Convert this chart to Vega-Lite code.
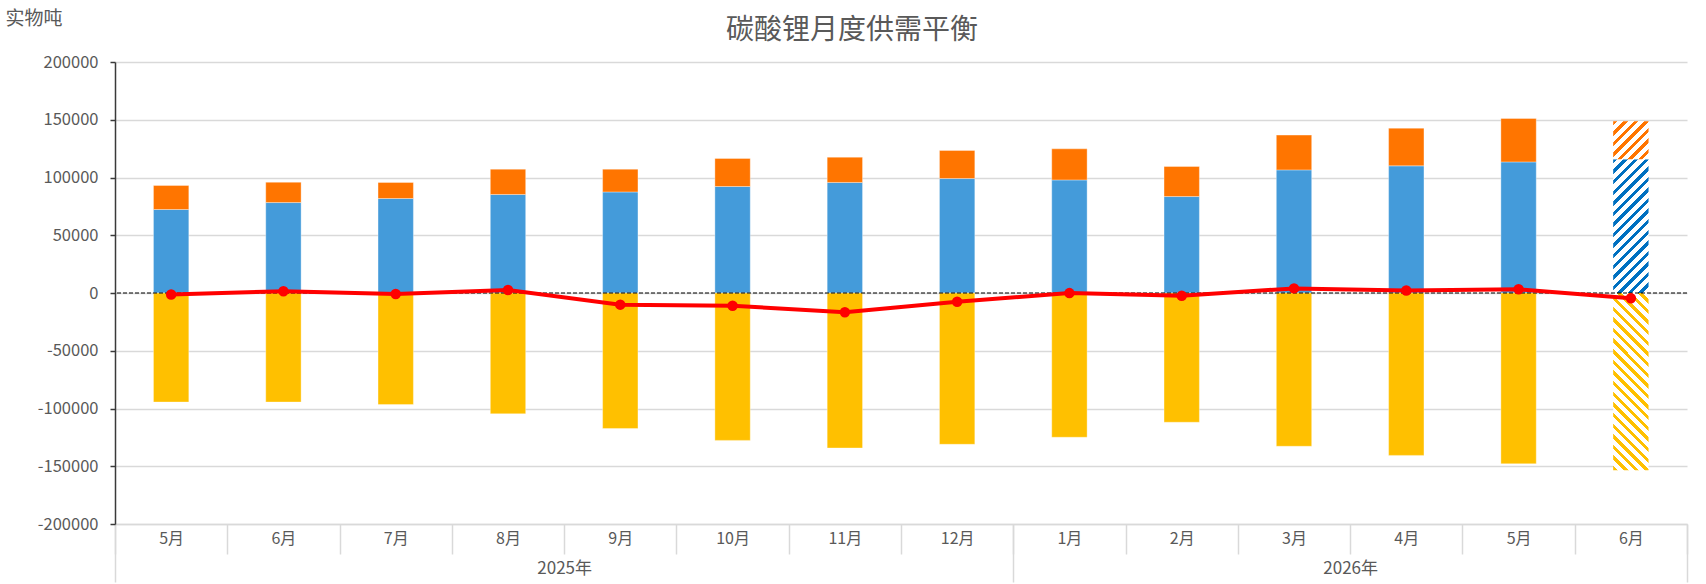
{
  "$schema": "https://vega.github.io/schema/vega-lite/v6.json",
  "width": 1572,
  "height": 462,
  "autosize": {"type": "none"},
  "padding": {"left": 115, "top": 62, "right": 19, "bottom": 60},
  "background": "#ffffff",
  "config": {"view": {"stroke": null}, "font": "Noto Sans CJK SC"},
  "title": {
    "text": "碳酸锂月度供需平衡",
    "font": "Noto Sans CJK SC",
    "fontSize": 28,
    "fontWeight": "normal",
    "color": "#595959",
    "anchor": "middle",
    "baseline": "middle",
    "dx": -49,
    "dy": 50,
    "offset": 0
  },
  "datasets": {
    "monthly": [
      {"m": "2025|5月", "domestic": 72300, "imports": 20800, "demand": -94400, "balance": -1300, "est": 0},
      {"m": "2025|6月", "domestic": 78300, "imports": 17600, "demand": -94400, "balance": 1500, "est": 0},
      {"m": "2025|7月", "domestic": 81800, "imports": 13900, "demand": -96600, "balance": -900, "est": 0},
      {"m": "2025|8月", "domestic": 85300, "imports": 21900, "demand": -104600, "balance": 2600, "est": 0},
      {"m": "2025|9月", "domestic": 87500, "imports": 19700, "demand": -117300, "balance": -10100, "est": 0},
      {"m": "2025|10月", "domestic": 92200, "imports": 24300, "demand": -127600, "balance": -11100, "est": 0},
      {"m": "2025|11月", "domestic": 95700, "imports": 21900, "demand": -134200, "balance": -16600, "est": 0},
      {"m": "2025|12月", "domestic": 99100, "imports": 24300, "demand": -131000, "balance": -7600, "est": 0},
      {"m": "2026|1月", "domestic": 97900, "imports": 26900, "demand": -124900, "balance": -100, "est": 0},
      {"m": "2026|2月", "domestic": 83500, "imports": 26000, "demand": -111900, "balance": -2400, "est": 0},
      {"m": "2026|3月", "domestic": 106600, "imports": 30100, "demand": -132700, "balance": 4000, "est": 0},
      {"m": "2026|4月", "domestic": 110100, "imports": 32600, "demand": -140600, "balance": 2100, "est": 0},
      {"m": "2026|5月", "domestic": 113500, "imports": 37600, "demand": -147900, "balance": 3200, "est": 0},
      {"m": "2026|6月", "domestic": 115900, "imports": 32900, "demand": -153400, "balance": -4600, "est": 1}
    ],
    "years": [
      {"year": "2025年", "mid": 4},
      {"year": "2026年", "mid": 11}
    ],
    "zero": [{"level": 0}]
  },
  "layer": [
    {
      "layer": [
        {
          "data": {"name": "monthly"},
          "transform": [
            {"fold": ["domestic", "imports", "demand"], "as": ["series", "value"]},
            {"stack": "value", "groupby": ["m"], "sort": [{"field": "series", "order": "ascending"}], "as": ["v0", "v1"]}
          ],
          "encoding": {
            "x": {
              "field": "m",
              "type": "ordinal",
              "sort": null,
              "scale": {"paddingInner": 0, "paddingOuter": 0},
              "axis": {
                "orient": "bottom",
                "title": null,
                "labelExpr": "split(datum.value, '|')[1]",
                "labelAngle": 0,
                "labelFont": "Noto Sans CJK SC",
                "labelFontSize": 16,
                "labelColor": "#595959",
                "labelPadding": -24,
                "tickBand": "extent",
                "tickSize": 30,
                "tickColor": "#d9d9d9",
                "tickWidth": 1.5,
                "domainColor": "#d9d9d9",
                "domainWidth": 1.5,
                "grid": false
              }
            },
            "y": {
              "field": "v0",
              "type": "quantitative",
              "scale": {"domain": [-200000, 200000], "nice": false, "zero": false},
              "axis": {
                "title": "实物吨",
                "titleAngle": 0,
                "titleAlign": "left",
                "titleBaseline": "middle",
                "titleX": -110,
                "titleY": -44,
                "titleFont": "Noto Sans CJK SC",
                "titleFontSize": 19,
                "titleFontWeight": "normal",
                "titleColor": "#595959",
                "values": [-200000, -150000, -100000, -50000, 0, 50000, 100000, 150000, 200000],
                "labelExpr": "'' + datum.value",
                "labelFont": "Noto Sans CJK SC",
                "labelFontSize": 16.5,
                "labelColor": "#595959",
                "labelPadding": 12,
                "tickSize": 5,
                "tickColor": "#3a3a3a",
                "tickWidth": 1.5,
                "domainColor": "#3a3a3a",
                "domainWidth": 1.5,
                "gridColor": "#d9d9d9",
                "gridWidth": 1.3
              }
            },
            "y2": {"field": "v1"}
          },
          "layer": [
            {
              "transform": [{"filter": "datum.est == 0"}],
              "mark": {"type": "bar", "width": {"band": 0.315}, "stroke": "#ffffff", "strokeWidth": 1, "strokeOpacity": 0.35},
              "encoding": {
                "color": {
                  "field": "series",
                  "type": "nominal",
                  "scale": {"domain": ["domestic", "imports", "demand"], "range": ["#449BDA", "#FF7500", "#FFC000"]},
                  "legend": null
                }
              }
            },
            {
              "transform": [{"filter": "datum.est == 1 && datum.series == 'domestic'"}],
              "mark": {
                "type": "bar",
                "width": {"band": 0.315},
                "fill": {
                  "gradient": "linear", "x1": 0, "y1": 0, "x2": 0.3124, "y2": 1.1818,
                  "stops": [
                    {"offset": 0, "color": "#0070C0"}, {"offset": 0.02625, "color": "#0070C0"}, {"offset": 0.02625, "color": "#ffffff"}, {"offset": 0.0625, "color": "#ffffff"},
                    {"offset": 0.0625, "color": "#0070C0"}, {"offset": 0.08875, "color": "#0070C0"}, {"offset": 0.08875, "color": "#ffffff"}, {"offset": 0.125, "color": "#ffffff"},
                    {"offset": 0.125, "color": "#0070C0"}, {"offset": 0.15125, "color": "#0070C0"}, {"offset": 0.15125, "color": "#ffffff"}, {"offset": 0.1875, "color": "#ffffff"},
                    {"offset": 0.1875, "color": "#0070C0"}, {"offset": 0.21375, "color": "#0070C0"}, {"offset": 0.21375, "color": "#ffffff"}, {"offset": 0.25, "color": "#ffffff"},
                    {"offset": 0.25, "color": "#0070C0"}, {"offset": 0.27625, "color": "#0070C0"}, {"offset": 0.27625, "color": "#ffffff"}, {"offset": 0.3125, "color": "#ffffff"},
                    {"offset": 0.3125, "color": "#0070C0"}, {"offset": 0.33875, "color": "#0070C0"}, {"offset": 0.33875, "color": "#ffffff"}, {"offset": 0.375, "color": "#ffffff"},
                    {"offset": 0.375, "color": "#0070C0"}, {"offset": 0.40125, "color": "#0070C0"}, {"offset": 0.40125, "color": "#ffffff"}, {"offset": 0.4375, "color": "#ffffff"},
                    {"offset": 0.4375, "color": "#0070C0"}, {"offset": 0.46375, "color": "#0070C0"}, {"offset": 0.46375, "color": "#ffffff"}, {"offset": 0.5, "color": "#ffffff"},
                    {"offset": 0.5, "color": "#0070C0"}, {"offset": 0.52625, "color": "#0070C0"}, {"offset": 0.52625, "color": "#ffffff"}, {"offset": 0.5625, "color": "#ffffff"},
                    {"offset": 0.5625, "color": "#0070C0"}, {"offset": 0.58875, "color": "#0070C0"}, {"offset": 0.58875, "color": "#ffffff"}, {"offset": 0.625, "color": "#ffffff"},
                    {"offset": 0.625, "color": "#0070C0"}, {"offset": 0.65125, "color": "#0070C0"}, {"offset": 0.65125, "color": "#ffffff"}, {"offset": 0.6875, "color": "#ffffff"},
                    {"offset": 0.6875, "color": "#0070C0"}, {"offset": 0.71375, "color": "#0070C0"}, {"offset": 0.71375, "color": "#ffffff"}, {"offset": 0.75, "color": "#ffffff"},
                    {"offset": 0.75, "color": "#0070C0"}, {"offset": 0.77625, "color": "#0070C0"}, {"offset": 0.77625, "color": "#ffffff"}, {"offset": 0.8125, "color": "#ffffff"},
                    {"offset": 0.8125, "color": "#0070C0"}, {"offset": 0.83875, "color": "#0070C0"}, {"offset": 0.83875, "color": "#ffffff"}, {"offset": 0.875, "color": "#ffffff"},
                    {"offset": 0.875, "color": "#0070C0"}, {"offset": 0.90125, "color": "#0070C0"}, {"offset": 0.90125, "color": "#ffffff"}, {"offset": 0.9375, "color": "#ffffff"},
                    {"offset": 0.9375, "color": "#0070C0"}, {"offset": 0.96375, "color": "#0070C0"}, {"offset": 0.96375, "color": "#ffffff"}, {"offset": 1, "color": "#ffffff"}
                  ]
                }
              }
            },
            {
              "transform": [{"filter": "datum.est == 1 && datum.series == 'imports'"}],
              "mark": {
                "type": "bar",
                "width": {"band": 0.315},
                "fill": {
                  "gradient": "linear", "x1": 0, "y1": 0, "x2": 0.9635, "y2": 1.0343,
                  "stops": [
                    {"offset": 0, "color": "#FF7500"}, {"offset": 0.06, "color": "#FF7500"}, {"offset": 0.06, "color": "#ffffff"}, {"offset": 0.1429, "color": "#ffffff"},
                    {"offset": 0.1429, "color": "#FF7500"}, {"offset": 0.2029, "color": "#FF7500"}, {"offset": 0.2029, "color": "#ffffff"}, {"offset": 0.2857, "color": "#ffffff"},
                    {"offset": 0.2857, "color": "#FF7500"}, {"offset": 0.3457, "color": "#FF7500"}, {"offset": 0.3457, "color": "#ffffff"}, {"offset": 0.4286, "color": "#ffffff"},
                    {"offset": 0.4286, "color": "#FF7500"}, {"offset": 0.4886, "color": "#FF7500"}, {"offset": 0.4886, "color": "#ffffff"}, {"offset": 0.5714, "color": "#ffffff"},
                    {"offset": 0.5714, "color": "#FF7500"}, {"offset": 0.6314, "color": "#FF7500"}, {"offset": 0.6314, "color": "#ffffff"}, {"offset": 0.7143, "color": "#ffffff"},
                    {"offset": 0.7143, "color": "#FF7500"}, {"offset": 0.7743, "color": "#FF7500"}, {"offset": 0.7743, "color": "#ffffff"}, {"offset": 0.8571, "color": "#ffffff"},
                    {"offset": 0.8571, "color": "#FF7500"}, {"offset": 0.9171, "color": "#FF7500"}, {"offset": 0.9171, "color": "#ffffff"}, {"offset": 1, "color": "#ffffff"}
                  ]
                }
              }
            },
            {
              "transform": [{"filter": "datum.est == 1 && datum.series == 'demand'"}],
              "mark": {
                "type": "bar",
                "width": {"band": 0.315},
                "fill": {
                  "gradient": "linear", "x1": 0, "y1": 1, "x2": 0.2305, "y2": -0.1538,
                  "stops": [
                    {"offset": 0, "color": "#FFC000"}, {"offset": 0.021, "color": "#FFC000"}, {"offset": 0.021, "color": "#ffffff"}, {"offset": 0.05, "color": "#ffffff"},
                    {"offset": 0.05, "color": "#FFC000"}, {"offset": 0.071, "color": "#FFC000"}, {"offset": 0.071, "color": "#ffffff"}, {"offset": 0.1, "color": "#ffffff"},
                    {"offset": 0.1, "color": "#FFC000"}, {"offset": 0.121, "color": "#FFC000"}, {"offset": 0.121, "color": "#ffffff"}, {"offset": 0.15, "color": "#ffffff"},
                    {"offset": 0.15, "color": "#FFC000"}, {"offset": 0.171, "color": "#FFC000"}, {"offset": 0.171, "color": "#ffffff"}, {"offset": 0.2, "color": "#ffffff"},
                    {"offset": 0.2, "color": "#FFC000"}, {"offset": 0.221, "color": "#FFC000"}, {"offset": 0.221, "color": "#ffffff"}, {"offset": 0.25, "color": "#ffffff"},
                    {"offset": 0.25, "color": "#FFC000"}, {"offset": 0.271, "color": "#FFC000"}, {"offset": 0.271, "color": "#ffffff"}, {"offset": 0.3, "color": "#ffffff"},
                    {"offset": 0.3, "color": "#FFC000"}, {"offset": 0.321, "color": "#FFC000"}, {"offset": 0.321, "color": "#ffffff"}, {"offset": 0.35, "color": "#ffffff"},
                    {"offset": 0.35, "color": "#FFC000"}, {"offset": 0.371, "color": "#FFC000"}, {"offset": 0.371, "color": "#ffffff"}, {"offset": 0.4, "color": "#ffffff"},
                    {"offset": 0.4, "color": "#FFC000"}, {"offset": 0.421, "color": "#FFC000"}, {"offset": 0.421, "color": "#ffffff"}, {"offset": 0.45, "color": "#ffffff"},
                    {"offset": 0.45, "color": "#FFC000"}, {"offset": 0.471, "color": "#FFC000"}, {"offset": 0.471, "color": "#ffffff"}, {"offset": 0.5, "color": "#ffffff"},
                    {"offset": 0.5, "color": "#FFC000"}, {"offset": 0.521, "color": "#FFC000"}, {"offset": 0.521, "color": "#ffffff"}, {"offset": 0.55, "color": "#ffffff"},
                    {"offset": 0.55, "color": "#FFC000"}, {"offset": 0.571, "color": "#FFC000"}, {"offset": 0.571, "color": "#ffffff"}, {"offset": 0.6, "color": "#ffffff"},
                    {"offset": 0.6, "color": "#FFC000"}, {"offset": 0.621, "color": "#FFC000"}, {"offset": 0.621, "color": "#ffffff"}, {"offset": 0.65, "color": "#ffffff"},
                    {"offset": 0.65, "color": "#FFC000"}, {"offset": 0.671, "color": "#FFC000"}, {"offset": 0.671, "color": "#ffffff"}, {"offset": 0.7, "color": "#ffffff"},
                    {"offset": 0.7, "color": "#FFC000"}, {"offset": 0.721, "color": "#FFC000"}, {"offset": 0.721, "color": "#ffffff"}, {"offset": 0.75, "color": "#ffffff"},
                    {"offset": 0.75, "color": "#FFC000"}, {"offset": 0.771, "color": "#FFC000"}, {"offset": 0.771, "color": "#ffffff"}, {"offset": 0.8, "color": "#ffffff"},
                    {"offset": 0.8, "color": "#FFC000"}, {"offset": 0.821, "color": "#FFC000"}, {"offset": 0.821, "color": "#ffffff"}, {"offset": 0.85, "color": "#ffffff"},
                    {"offset": 0.85, "color": "#FFC000"}, {"offset": 0.871, "color": "#FFC000"}, {"offset": 0.871, "color": "#ffffff"}, {"offset": 0.9, "color": "#ffffff"},
                    {"offset": 0.9, "color": "#FFC000"}, {"offset": 0.921, "color": "#FFC000"}, {"offset": 0.921, "color": "#ffffff"}, {"offset": 0.95, "color": "#ffffff"},
                    {"offset": 0.95, "color": "#FFC000"}, {"offset": 0.971, "color": "#FFC000"}, {"offset": 0.971, "color": "#ffffff"}, {"offset": 1, "color": "#ffffff"}
                  ]
                }
              }
            }
          ]
        },
        {
          "data": {"name": "zero"},
          "mark": {"type": "rule", "color": "#000000", "strokeWidth": 1, "strokeDash": [4, 2]},
          "encoding": {"y": {"field": "level", "type": "quantitative"}}
        },
        {
          "data": {"name": "monthly"},
          "mark": {
            "type": "line",
            "color": "#FF0000",
            "strokeWidth": 4,
            "point": {"filled": true, "size": 110, "color": "#FF0000"}
          },
          "encoding": {
            "x": {"field": "m", "type": "ordinal", "sort": null},
            "y": {"field": "balance", "type": "quantitative"}
          }
        }
      ]
    },
    {
      "data": {"name": "years"},
      "mark": {"type": "text", "opacity": 0},
      "encoding": {
        "x": {
          "field": "mid",
          "type": "quantitative",
          "scale": {"domain": [0, 14], "nice": false, "zero": false},
          "axis": {
            "orient": "bottom",
            "title": null,
            "values": [0, 4, 8, 11, 14],
            "labelExpr": "datum.value == 4 ? '2025年' : datum.value == 11 ? '2026年' : ''",
            "labelFont": "Noto Sans CJK SC",
            "labelFontSize": 17,
            "labelColor": "#595959",
            "labelPadding": -22,
            "labelFlush": false,
            "labelOverlap": false,
            "tickSize": 58,
            "tickColor": "#d9d9d9",
            "tickWidth": 1.5,
            "tickOpacity": {"condition": {"test": "datum.value == 4 || datum.value == 11", "value": 0}, "value": 1},
            "domain": false,
            "grid": false
          }
        },
        "text": {"field": "year"}
      }
    }
  ],
  "resolve": {"scale": {"x": "independent"}}
}
